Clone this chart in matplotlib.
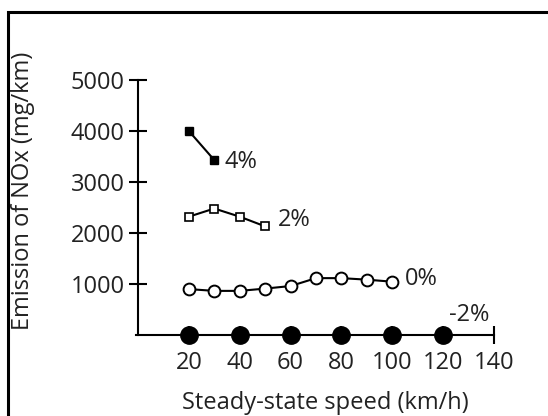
import matplotlib
matplotlib.use("Agg")
import matplotlib.pyplot as plt
from matplotlib.patches import Rectangle

# Data
speed_4 = [20, 30]
nox_4 = [4000, 3430]

speed_2 = [20, 30, 40, 50]
nox_2 = [2320, 2480, 2320, 2130]

speed_0 = [20, 30, 40, 50, 60, 70, 80, 90, 100]
nox_0 = [900, 865, 865, 910, 960, 1115, 1115, 1085, 1045]

speed_m2 = [20, 40, 60, 80, 100, 120]
nox_m2 = [0, 0, 0, 0, 0, 0]

grade_labels = ["4%", "2%", "0%", "-2%"]
xticks = [20, 40, 60, 80, 100, 120, 140]
yticks = [1000, 2000, 3000, 4000, 5000]

plt.rcParams['font.family'] = ['Open Sans', 'DejaVu Sans']
txt = '#222222'
fs = 17

W, H = 548, 416
fig = plt.figure(figsize=(W / 100, H / 100), dpi=100)
ax = fig.add_axes([138 / W, (H - 335) / H, (494 - 138) / W, (335 - 80) / H])

ax.plot(speed_4, nox_4, '-s', color='black', lw=1.5, ms=5.5, mfc='black', clip_on=False)
ax.plot(speed_2, nox_2, '-s', color='black', lw=1.5, ms=5.5, mfc='white', mew=1.2, clip_on=False)
ax.plot(speed_0, nox_0, '-o', color='black', lw=1.5, ms=8.5, mfc='white', mew=1.4, clip_on=False)
ax.plot(speed_m2, nox_m2, 'o', color='black', ms=12.5, clip_on=False, zorder=5)

# curve labels
ax.text(34.2, 3390, grade_labels[0], fontsize=fs, color=txt, va='center', ha='left')
ax.text(55, 2255, grade_labels[1], fontsize=fs, color=txt, va='center', ha='left')
ax.text(105, 1100, grade_labels[2], fontsize=fs, color=txt, va='center', ha='left')
ax.text(122.3, 390, grade_labels[3], fontsize=fs, color=txt, va='center', ha='left')

ax.set_xlim(0, 140)
ax.set_ylim(0, 5000)
for s in ['top', 'right']:
    ax.spines[s].set_visible(False)
for s in ['left', 'bottom']:
    ax.spines[s].set_linewidth(1.5)
ax.spines['bottom'].set_bounds(-0.8, 140)

ax.set_xticks(xticks)
ax.set_yticks(yticks)
ax.tick_params(direction='inout', length=13, width=1.5, labelsize=fs, labelcolor=txt)
ax.tick_params(axis='x', pad=5)
ax.tick_params(axis='y', pad=3)

fig.text(325 / W, 1 - 403 / H, "Steady-state speed (km/h)", fontsize=fs, color=txt,
         ha='center', va='center')
fig.text(23 / W, 1 - 191 / H, "Emission of NOx (mg/km)", fontsize=fs, color=txt,
         ha='center', va='center', rotation=90)

# outer frame (only left and top edges show in the crop)
fig.add_artist(Rectangle((8 / W, -0.1), 1.2, (H - 12) / H + 0.1, transform=fig.transFigure,
                         fill=False, lw=2.2, color='black'))

fig.savefig("out.png", dpi=100)
